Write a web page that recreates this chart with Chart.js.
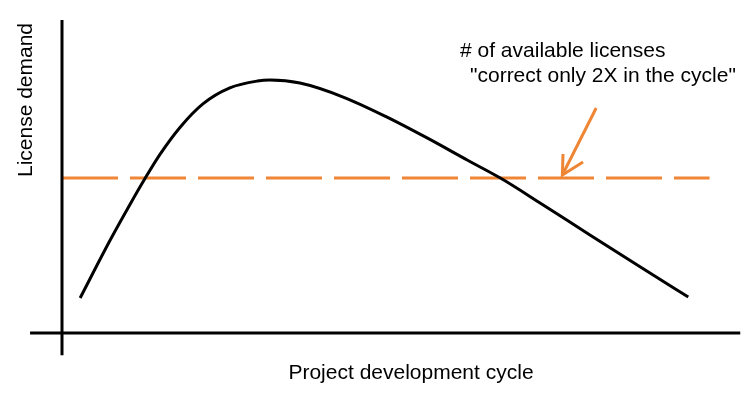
<!DOCTYPE html>
<html>
<head>
<meta charset="utf-8">
<script src="https://cdn.jsdelivr.net/npm/chart.js@4/dist/chart.umd.min.js"></script>
<style>
html,body{margin:0;padding:0;background:#fff;}
#wrap{width:749px;height:394px;}
</style>
</head>
<body>
<div id="wrap"><canvas id="c" width="749" height="394"></canvas></div>
<script>
// Project cycle progress (% of cycle)
const cycle = [2.9, 7.7, 10.9, 13.3, 15.7, 18.9, 22.5, 26.8, 31.2, 33.2, 38.0, 44.9, 51.9, 58.3, 64.7, 70.0, 76.4, 84.3, 92.3, 100];
// License demand (relative units)
const demand = [13.8, 36.6, 50.8, 61.0, 70.5, 81.1, 90.2, 96.5, 99.2, 99.6, 98.4, 92.9, 85.0, 76.8, 68.1, 61.0, 51.1, 38.6, 26.1, 14.2];
// Available licenses level
const licenseLevel = 61;
const licenseSpan = [0, 103.4];
// Arrow pointing at the license line
const arrowX = [85.3, 79.9];
const arrowY = [88.6, 62.2];
const arrowHeadX = [80.0, 79.9, 83.2];
const arrowHeadY = [70.5, 62.2, 67.3];
// Text
const yTitle = 'License demand';
const xTitle = 'Project development cycle';
const noteLines = ['# of available licenses', '"correct only 2X in the cycle"'];

const ORANGE = '#EF8636';
const toPts = (xs, ys) => xs.map((x, i) => ({x, y: ys[i]}));

const decor = {
  id: 'decor',
  afterDatasetsDraw(chart) {
    const {ctx, scales: {x, y}} = chart;
    const x0 = x.getPixelForValue(0), y0 = y.getPixelForValue(0);
    ctx.save();
    ctx.strokeStyle = '#000';
    ctx.lineWidth = 3;
    ctx.lineCap = 'butt';
    ctx.beginPath();
    ctx.moveTo(x0, y.getPixelForValue(123.2));
    ctx.lineTo(x0, y.getPixelForValue(-8.7));
    ctx.moveTo(x.getPixelForValue(-5.1), y0);
    ctx.lineTo(x.getPixelForValue(108.3), y0);
    ctx.stroke();

    ctx.fillStyle = '#000';
    ctx.font = '21px "Liberation Sans", Arial, sans-serif';
    ctx.textBaseline = 'alphabetic';
    ctx.textAlign = 'center';
    ctx.fillText(xTitle, 411, 379);
    ctx.textAlign = 'left';
    ctx.fillText(noteLines[0], 460, 57);
    ctx.fillText(noteLines[1], 470, 82);

    ctx.translate(26, 100);
    ctx.rotate(-Math.PI / 2);
    ctx.textAlign = 'center';
    ctx.textBaseline = 'middle';
    ctx.fillText(yTitle, 0, 0);
    ctx.restore();
  }
};

new Chart(document.getElementById('c'), {
  type: 'line',
  data: {
    datasets: [
      {
        data: toPts(licenseSpan, [licenseLevel, licenseLevel]),
        borderColor: ORANGE, borderWidth: 3, borderDash: [56, 12], pointRadius: 0, order: 2
      },
      {
        data: toPts(cycle, demand),
        borderColor: '#000', borderWidth: 3, pointRadius: 0,
        cubicInterpolationMode: 'monotone', order: 1
      },
      {
        data: toPts(arrowX, arrowY),
        borderColor: ORANGE, borderWidth: 3, pointRadius: 0, order: 0
      },
      {
        data: toPts(arrowHeadX, arrowHeadY),
        borderColor: ORANGE, borderWidth: 3, pointRadius: 0, order: 0
      }
    ]
  },
  options: {
    responsive: false,
    animation: false,
    layout: {padding: 0},
    plugins: {legend: {display: false}, tooltip: {enabled: false}},
    scales: {
      x: {type: 'linear', display: false, min: -9.9, max: 109.7},
      y: {type: 'linear', display: false, min: -24.0, max: 131.1}
    }
  },
  plugins: [decor]
});
</script>
</body>
</html>
